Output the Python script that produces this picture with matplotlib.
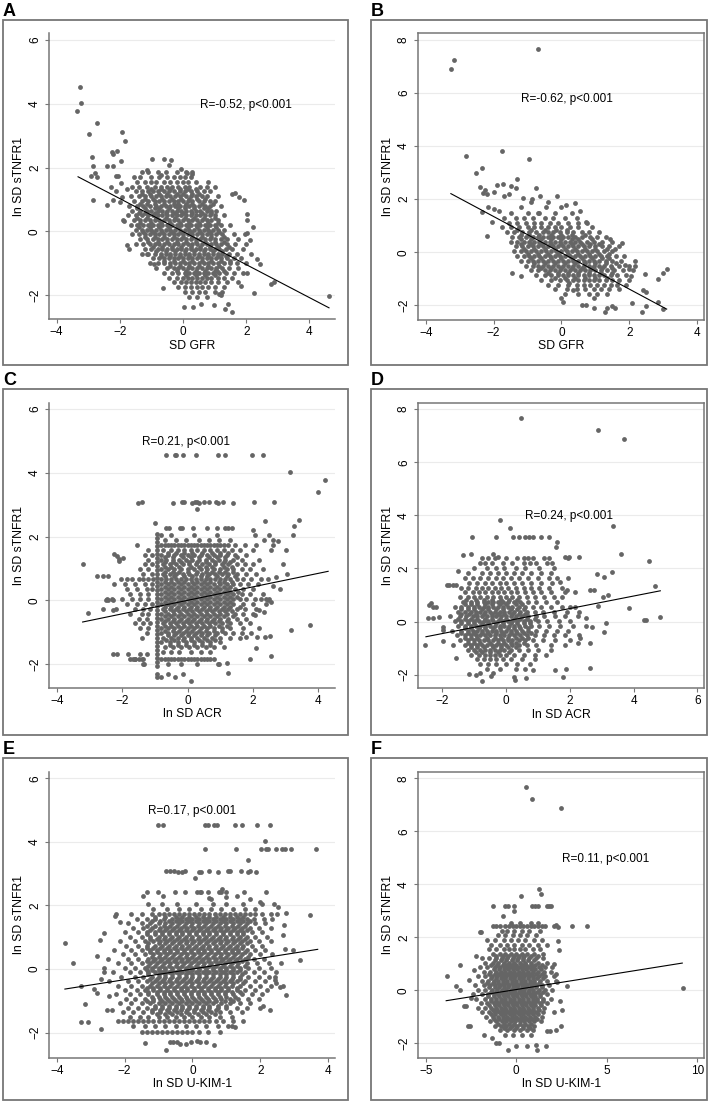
import matplotlib
matplotlib.use("Agg")
import matplotlib.pyplot as plt
from matplotlib.patches import Rectangle

plt.rcParams["font.family"] = ["Liberation Sans", "DejaVu Sans"]

# ---------------------------------------------------------------- data
# each cloud as (y level, [x values])
a_rows = [
    (1.85, [-1.3, -1.1, -0.8, -0.55, -0.2, 0.1, 0.3]),
    (1.7, [-1.55, -1.35, -1.0, -0.75, -0.5, -0.3, -0.1, 0.05, 0.25]),
    (1.55, [-1.45, -1.2, -1.0, -0.85, -0.6, -0.4, -0.2, 0.0, 0.15, 0.4, 0.8]),
    (1.4, [-1.6, -1.4, -1.15, -0.9, -0.7, -0.5, -0.35, -0.15, 0.05, 0.2, 0.55, 0.75, 1.0]),
    (1.25, [-1.5, -1.3, -1.1, -0.95, -0.8, -0.6, -0.45, -0.3, -0.1, 0.05, 0.25, 0.45, 0.65, 0.85]),
    (1.1, [-1.65, -1.4, -1.2, -1.0, -0.85, -0.7, -0.55, -0.4, -0.25, -0.1, 0.1, 0.25, 0.4, 0.6, 0.75, 1.1]),
    (0.95, [-1.55, -1.3, -1.1, -0.9, -0.75, -0.6, -0.45, -0.3, -0.15, 0.0, 0.15, 0.3, 0.5, 0.65, 0.85, 1.0]),
    (0.8, [-1.7, -1.45, -1.25, -1.05, -0.85, -0.7, -0.55, -0.4, -0.25, -0.1, 0.05, 0.2, 0.35, 0.5, 0.7, 0.85, 1.2]),
    (0.65, [-1.6, -1.35, -1.15, -1.0, -0.8, -0.65, -0.5, -0.35, -0.2, -0.05, 0.1, 0.25, 0.4, 0.55, 0.75, 0.9, 1.05]),
    (0.5, [-1.75, -1.5, -1.3, -1.1, -0.95, -0.8, -0.65, -0.5, -0.35, -0.2, -0.05, 0.1, 0.25, 0.4, 0.55, 0.7, 0.85, 1.0, 1.3]),
    (0.35, [-1.55, -1.35, -1.2, -1.05, -0.9, -0.75, -0.6, -0.45, -0.3, -0.15, 0.0, 0.15, 0.3, 0.45, 0.6, 0.75, 0.9, 1.1]),
    (0.2, [-1.65, -1.45, -1.25, -1.1, -0.95, -0.8, -0.65, -0.5, -0.35, -0.2, -0.05, 0.1, 0.25, 0.4, 0.55, 0.7, 0.85, 1.0, 1.2, 1.5]),
    (0.05, [-1.5, -1.3, -1.15, -1.0, -0.85, -0.7, -0.55, -0.4, -0.25, -0.1, 0.05, 0.2, 0.35, 0.5, 0.65, 0.8, 0.95, 1.1, 1.3]),
    (-0.1, [-1.6, -1.4, -1.2, -1.05, -0.9, -0.75, -0.6, -0.45, -0.3, -0.15, 0.0, 0.15, 0.3, 0.45, 0.6, 0.75, 0.9, 1.05, 1.25, 1.6, 1.95]),
    (-0.25, [-1.35, -1.15, -0.95, -0.8, -0.65, -0.5, -0.35, -0.2, -0.05, 0.1, 0.25, 0.4, 0.55, 0.7, 0.85, 1.0, 1.2, 1.4, 1.75]),
    (-0.4, [-1.5, -1.25, -1.05, -0.9, -0.75, -0.6, -0.45, -0.3, -0.15, 0.0, 0.15, 0.3, 0.45, 0.6, 0.75, 0.9, 1.05, 1.2, 1.4, 1.65, 2.0]),
    (-0.55, [-1.2, -1.0, -0.8, -0.65, -0.5, -0.35, -0.2, -0.05, 0.1, 0.25, 0.4, 0.55, 0.7, 0.85, 1.0, 1.15, 1.35, 1.55, 1.9]),
    (-0.7, [-1.3, -1.1, -0.9, -0.7, -0.55, -0.4, -0.25, -0.1, 0.05, 0.2, 0.35, 0.5, 0.65, 0.8, 0.95, 1.1, 1.25, 1.45, 1.7, 2.15]),
    (-0.85, [-0.95, -0.75, -0.6, -0.45, -0.3, -0.15, 0.0, 0.15, 0.3, 0.45, 0.6, 0.75, 0.9, 1.05, 1.2, 1.4, 1.6, 1.85]),
    (-1.0, [-1.05, -0.8, -0.6, -0.4, -0.25, -0.1, 0.05, 0.2, 0.35, 0.5, 0.65, 0.8, 0.95, 1.1, 1.3, 1.5, 1.7, 2.0]),
    (-1.15, [-0.85, -0.5, -0.3, -0.15, 0.0, 0.15, 0.3, 0.45, 0.6, 0.75, 0.9, 1.05, 1.25, 1.45, 1.75]),
    (-1.3, [-0.6, -0.35, -0.15, 0.05, 0.2, 0.35, 0.5, 0.65, 0.8, 0.95, 1.15, 1.35, 1.6, 1.9]),
    (-1.45, [-0.45, -0.2, 0.0, 0.15, 0.3, 0.45, 0.6, 0.75, 0.9, 1.1, 1.3, 1.55]),
    (-1.6, [-0.3, -0.05, 0.1, 0.25, 0.4, 0.55, 0.7, 0.9, 1.1, 1.4, 1.75]),
    (-1.75, [-0.15, 0.05, 0.25, 0.45, 0.6, 0.8, 1.0, 1.3]),
    (-1.9, [0.05, 0.3, 0.5, 0.7, 1.0, 1.25]),
    (-2.05, [0.2, 0.45, 0.75]),
]
# extra rows inside the solid core
a_fill = [
    (1.32, [-1.0, -0.7, -0.4, -0.1, 0.15, 0.4]),
    (1.17, [-1.3, -1.05, -0.75, -0.5, -0.2, 0.0, 0.3, 0.5]),
    (1.02, [-1.2, -0.95, -0.65, -0.35, -0.05, 0.2, 0.45, 0.7]),
    (0.87, [-1.35, -1.15, -0.9, -0.6, -0.3, -0.15, 0.1, 0.3, 0.6, 0.95]),
    (0.72, [-1.45, -1.2, -0.9, -0.75, -0.45, -0.15, 0.05, 0.35, 0.65, 0.8]),
    (0.57, [-1.4, -1.2, -0.9, -0.55, -0.25, 0.0, 0.3, 0.6, 0.9]),
    (0.42, [-1.45, -1.15, -0.85, -0.55, -0.25, 0.05, 0.35, 0.65, 1.0]),
    (0.27, [-1.35, -1.0, -0.7, -0.4, -0.1, 0.2, 0.5, 0.8, 1.1]),
    (0.12, [-1.4, -1.05, -0.75, -0.45, -0.15, 0.15, 0.45, 0.75, 1.05]),
    (-0.03, [-1.25, -0.95, -0.65, -0.35, -0.05, 0.25, 0.55, 0.85, 1.15]),
    (-0.18, [-1.2, -0.9, -0.6, -0.3, 0.0, 0.3, 0.6, 0.9, 1.3]),
    (-0.33, [-1.1, -0.8, -0.5, -0.2, 0.1, 0.4, 0.7, 1.0, 1.3]),
    (-0.48, [-0.95, -0.65, -0.35, -0.05, 0.25, 0.55, 0.85, 1.1, 1.45]),
    (-0.63, [-0.85, -0.55, -0.25, 0.05, 0.35, 0.65, 0.95, 1.25]),
    (-0.78, [-0.7, -0.4, -0.1, 0.2, 0.5, 0.8, 1.1, 1.35]),
    (-0.93, [-0.6, -0.3, 0.0, 0.3, 0.6, 0.9, 1.2, 1.5]),
    (-1.08, [-0.4, -0.1, 0.2, 0.5, 0.8, 1.15]),
    (-1.23, [-0.2, 0.1, 0.4, 0.7, 1.0, 1.3]),
    (-1.38, [0.1, 0.4, 0.7, 1.0]),
]
a_extra = [
    (-3.25, 4.53), (-3.22, 4.01), (-3.34, 3.78), (-2.73, 3.40), (-2.97, 3.05), (-1.93, 3.10),
    (-1.85, 2.84), (-2.25, 2.48), (-2.09, 2.53), (-2.23, 2.42), (-2.89, 2.34), (-2.85, 2.06),
    (-2.42, 2.04), (-2.23, 2.06), (-1.95, 2.19), (-2.92, 1.74), (-2.78, 1.84), (-2.71, 1.69),
    (-2.86, 0.97), (-2.39, 0.83), (-2.23, 0.97), (-2.13, 1.73), (-2.07, 1.73), (-1.97, 1.50),
    (-1.92, 1.08), (-1.90, 0.35), (-1.86, 0.31), (-1.76, -0.44), (-1.70, -0.54), (-2.28, 1.39),
    (-2.13, 1.27), (-2.00, 0.93), (-1.78, 1.34), (-0.97, 2.28), (-0.61, 2.26), (-0.39, 2.24),
    (-0.44, 2.07), (-0.07, 1.94), (0.14, 1.83), (0.29, 1.81), (-1.13, 1.92), (-0.70, 1.76),
    (1.56, 1.18), (1.66, 1.20), (1.78, 1.08), (1.93, 0.99), (2.01, 0.55), (2.03, 0.35),
    (2.21, 0.14), (2.01, -0.05), (2.12, -0.28), (2.33, -0.86), (2.45, -1.02), (2.03, -1.31),
    (2.26, -1.92), (1.82, -1.71), (2.77, -1.64), (2.87, -1.60), (4.61, -2.03), (0.03, -2.38),
    (0.33, -2.38), (0.98, -2.32), (1.32, -2.43), (1.43, -2.27), (1.56, -2.53), (0.56, -2.27),
    (-0.62, -1.77), (1.08, -1.23), (1.14, -1.96), (1.19, -2.01), (-0.92, -1.02), (-1.13, -0.70),
]

b_rows = [
    (1.9, [-0.9, -0.4]),
    (1.7, [-1.2, -0.45, 0.0]),
    (1.48, [-1.5, -1.0, -0.7, -0.2, 0.3]),
    (1.3, [-1.7, -1.35, -1.1, -0.85, -0.5, -0.25, 0.1, 0.45]),
    (1.12, [-1.55, -1.3, -1.05, -0.8, -0.6, -0.35, -0.1, 0.2, 0.5, 0.75]),
    (0.94, [-1.75, -1.5, -1.25, -1.0, -0.8, -0.6, -0.4, -0.2, 0.0, 0.25, 0.5, 0.9]),
    (0.76, [-1.6, -1.4, -1.15, -0.95, -0.75, -0.55, -0.4, -0.25, -0.05, 0.15, 0.35, 0.6, 0.8, 1.1]),
    (0.58, [-1.45, -1.25, -1.05, -0.85, -0.7, -0.55, -0.4, -0.25, -0.1, 0.05, 0.2, 0.4, 0.6, 0.85, 1.05, 1.3]),
    (0.4, [-1.5, -1.3, -1.1, -0.95, -0.8, -0.65, -0.5, -0.35, -0.2, -0.05, 0.1, 0.25, 0.4, 0.55, 0.75, 0.95, 1.2, 1.5]),
    (0.22, [-1.35, -1.15, -1.0, -0.85, -0.7, -0.55, -0.4, -0.25, -0.1, 0.05, 0.2, 0.35, 0.5, 0.65, 0.8, 1.0, 1.2, 1.4, 1.7]),
    (0.04, [-1.4, -1.2, -1.05, -0.9, -0.75, -0.6, -0.45, -0.3, -0.15, 0.0, 0.15, 0.3, 0.45, 0.6, 0.75, 0.9, 1.05, 1.25, 1.5]),
    (-0.14, [-1.3, -1.1, -0.95, -0.8, -0.65, -0.5, -0.35, -0.2, -0.05, 0.1, 0.25, 0.4, 0.55, 0.7, 0.85, 1.0, 1.15, 1.35, 1.6, 1.85]),
    (-0.32, [-1.2, -1.0, -0.85, -0.7, -0.55, -0.4, -0.25, -0.1, 0.05, 0.2, 0.35, 0.5, 0.65, 0.8, 0.95, 1.1, 1.3, 1.5, 1.75]),
    (-0.5, [-1.05, -0.85, -0.7, -0.55, -0.4, -0.25, -0.1, 0.05, 0.2, 0.35, 0.5, 0.65, 0.8, 0.95, 1.1, 1.25, 1.45, 1.7, 2.0]),
    (-0.68, [-0.9, -0.7, -0.5, -0.35, -0.2, -0.05, 0.1, 0.25, 0.4, 0.55, 0.7, 0.85, 1.0, 1.15, 1.35, 1.55, 1.8, 2.1]),
    (-0.86, [-0.75, -0.5, -0.3, -0.1, 0.05, 0.2, 0.35, 0.5, 0.65, 0.8, 0.95, 1.1, 1.25, 1.45, 1.65, 1.9]),
    (-1.04, [-0.6, -0.3, -0.05, 0.15, 0.35, 0.5, 0.65, 0.8, 0.95, 1.1, 1.3, 1.5, 1.7, 2.0]),
    (-1.22, [-0.4, -0.1, 0.2, 0.45, 0.65, 0.85, 1.05, 1.25, 1.45, 1.65, 1.9]),
    (-1.4, [-0.2, 0.15, 0.45, 0.7, 0.95, 1.15, 1.4, 1.7]),
    (-1.58, [0.1, 0.5, 0.8, 1.05, 1.35]),
]
b_fill = [
    (0.85, [-1.3, -0.9, -0.5, -0.15, 0.15]),
    (0.67, [-1.2, -0.95, -0.65, -0.3, 0.0, 0.3, 0.7]),
    (0.49, [-1.2, -0.9, -0.6, -0.3, 0.0, 0.3, 0.5, 0.9]),
    (0.31, [-1.2, -0.9, -0.6, -0.3, 0.0, 0.3, 0.6, 0.85, 1.1]),
    (0.13, [-1.1, -0.8, -0.5, -0.2, 0.1, 0.4, 0.7, 1.0, 1.35]),
    (-0.05, [-1.0, -0.7, -0.4, -0.1, 0.2, 0.5, 0.8, 1.1, 1.4]),
    (-0.23, [-0.9, -0.6, -0.3, 0.0, 0.3, 0.6, 0.9, 1.2, 1.4]),
    (-0.41, [-0.8, -0.5, -0.2, 0.1, 0.4, 0.7, 1.0, 1.3, 1.6]),
    (-0.59, [-0.6, -0.3, 0.0, 0.3, 0.6, 0.9, 1.2, 1.5]),
    (-0.77, [-0.4, -0.1, 0.2, 0.5, 0.8, 1.15, 1.5]),
    (-0.95, [-0.2, 0.1, 0.4, 0.7, 1.0, 1.35]),
]
b_extra = [
    (-3.26, 6.89), (-3.17, 7.23), (-0.70, 7.65), (-2.82, 3.62), (-1.75, 3.81), (-0.95, 3.52),
    (-2.51, 2.99), (-2.33, 3.16), (-1.30, 2.78), (-2.39, 2.45), (-2.25, 2.34), (-2.31, 2.24),
    (-1.91, 2.55), (-1.72, 2.59), (-1.48, 2.49), (-1.33, 2.43), (-1.99, 2.26), (-1.68, 2.11),
    (-2.19, 2.18), (-0.76, 2.42), (-0.62, 2.11), (-0.12, 2.11), (0.12, 1.77), (-2.33, 1.51),
    (-2.17, 1.71), (-1.99, 1.64), (-1.84, 1.55), (-2.06, 1.13), (-2.19, 0.63), (-1.55, 2.21),
    (-1.13, 2.05), (-0.88, 1.99), (-0.67, 1.48), (0.41, 1.84), (0.56, 1.55), (0.71, 1.13),
    (1.44, 0.50), (1.78, 0.35), (1.59, 0.13), (1.88, -0.47), (1.98, -0.63), (2.18, -0.53),
    (2.16, -0.34), (2.06, -0.91), (2.47, -0.81), (2.40, -1.43), (2.50, -1.51), (2.83, -1.01),
    (2.99, -0.78), (3.11, -0.63), (2.83, -1.89), (2.98, -2.14), (2.37, -2.23), (2.50, -2.04),
    (2.08, -1.91), (1.59, -2.10), (1.29, -2.23), (1.34, -2.10), (1.49, -2.01), (0.95, -2.10),
    (0.71, -1.97), (0.59, -1.97), (0.00, -1.72), (0.04, -1.89), (0.33, -1.41), (0.95, -1.72),
    (-1.45, -0.78), (-1.18, -0.91), (0.22, -1.16),
]

c_rows = [
    (2.05, [-0.8, -0.5, 0.2, 0.9, 2.05, 2.5]),
    (1.9, [-0.7, -0.35, -0.05, 0.35, 0.65, 0.95, 1.3, 2.35, 2.6]),
    (1.73, [-1.55, -0.8, -0.7, -0.6, -0.5, -0.4, -0.3, -0.2, -0.1, 0.0, 0.1, 0.2, 0.3, 0.4, 0.5,
            0.6, 0.7, 0.8, 0.9, 1.0, 1.1, 1.25, 1.45, 1.75, 2.1, 2.6]),
    (1.58, [-1.2, -0.75, -0.5, -0.3, -0.1, 0.1, 0.3, 0.5, 0.7, 0.9, 1.1, 1.35, 1.6, 2.0, 2.55]),
    (1.43, [-1.3, -1.1, -0.8, -0.6, -0.4, -0.2, 0.0, 0.2, 0.4, 0.6, 0.8, 1.0, 1.2, 1.45, 1.8]),
    (1.28, [-1.2, -0.8, -0.65, -0.45, -0.25, -0.05, 0.15, 0.35, 0.55, 0.75, 0.95, 1.15, 1.4, 1.65, 2.2]),
    (1.13, [-1.3, -1.1, -0.75, -0.55, -0.35, -0.15, 0.05, 0.25, 0.45, 0.65, 0.85, 1.05, 1.25, 1.5, 1.75, 2.0]),
    (0.98, [-1.45, -1.2, -0.8, -0.6, -0.4, -0.2, 0.0, 0.2, 0.4, 0.6, 0.8, 1.0, 1.2, 1.4, 1.65, 1.9, 2.3]),
    (0.83, [-1.35, -1.1, -0.75, -0.55, -0.35, -0.15, 0.05, 0.25, 0.45, 0.65, 0.85, 1.05, 1.25, 1.5, 1.8, 2.1]),
    (0.66, [-2.05, -1.85, -1.7, -1.5, -1.35, -1.2, -1.05, -0.8, -0.65, -0.5, -0.35, -0.2, -0.05, 0.1,
            0.25, 0.4, 0.55, 0.7, 0.85, 1.0, 1.15, 1.3, 1.5, 1.7, 1.95, 2.25, 2.45]),
    (0.5, [-2.25, -1.9, -1.6, -1.3, -1.1, -0.8, -0.6, -0.4, -0.2, 0.0, 0.2, 0.4, 0.6, 0.8, 1.0, 1.2,
           1.4, 1.6, 1.85, 2.15]),
    (0.35, [-1.85, -1.55, -1.25, -1.1, -0.8, -0.6, -0.4, -0.2, 0.0, 0.2, 0.4, 0.6, 0.8, 1.0, 1.2, 1.45, 1.7, 2.0]),
    (0.2, [-1.75, -1.45, -1.2, -0.8, -0.6, -0.4, -0.2, 0.0, 0.2, 0.4, 0.6, 0.8, 1.0, 1.2, 1.4, 1.65, 1.9, 2.3]),
    (0.03, [-2.45, -2.3, -2.0, -1.7, -1.45, -1.2, -0.8, -0.6, -0.4, -0.2, 0.0, 0.2, 0.4, 0.6, 0.8, 1.0,
            1.2, 1.4, 1.6, 1.8, 2.05, 2.25, 2.4, 2.5]),
    (-0.12, [-1.85, -1.55, -1.3, -1.1, -0.8, -0.6, -0.4, -0.2, 0.0, 0.2, 0.4, 0.6, 0.8, 1.0, 1.2, 1.4, 1.7, 2.0, 2.4]),
    (-0.27, [-2.2, -1.6, -1.35, -1.15, -0.75, -0.55, -0.35, -0.15, 0.05, 0.25, 0.45, 0.65, 0.85, 1.05,
             1.25, 1.5, 1.75, 2.1]),
    (-0.42, [-1.75, -1.4, -1.2, -0.8, -0.6, -0.4, -0.2, 0.0, 0.2, 0.4, 0.6, 0.8, 1.0, 1.2, 1.45, 1.7, 2.0]),
    (-0.57, [-1.5, -1.25, -0.8, -0.6, -0.4, -0.2, 0.0, 0.2, 0.4, 0.6, 0.8, 1.0, 1.25, 1.5, 1.8]),
    (-0.72, [-1.6, -1.35, -1.15, -0.75, -0.55, -0.35, -0.15, 0.05, 0.25, 0.45, 0.65, 0.85, 1.05, 1.3, 1.6, 1.9]),
    (-0.87, [-1.45, -1.2, -0.8, -0.6, -0.4, -0.2, 0.0, 0.2, 0.4, 0.6, 0.8, 1.05, 1.3, 1.7, 2.2]),
    (-1.02, [-1.25, -0.8, -0.6, -0.35, -0.15, 0.05, 0.25, 0.45, 0.65, 0.9, 1.15, 1.4, 1.65, 1.95]),
    (-1.17, [-1.4, -0.75, -0.5, -0.3, -0.1, 0.1, 0.3, 0.5, 0.75, 1.0, 1.3, 1.6]),
    (-1.32, [-0.8, -0.55, -0.3, -0.05, 0.2, 0.45, 0.7, 1.0]),
    (-1.47, [-0.7, -0.45, -0.2, 0.05, 0.3, 0.55, 0.8, 1.1]),
    (-1.62, [-0.75, -0.5, -0.25, 0.1, 0.4, 0.7]),
    (-1.83, [-1.75, -1.6, -1.5, -1.4, -0.8, -0.7, -0.6, -0.5, -0.4, -0.3, -0.2, -0.1, 0.0, 0.1, 0.2,
             0.3, 0.4, 0.5, 0.6, 0.7, 0.8]),
    (-2.0, [-1.35, -0.6, -0.2, 0.3, 0.95]),
]
c_fill = [
    (1.5, [-0.6, -0.35, -0.1, 0.15, 0.45, 0.75, 1.0, 1.25]),
    (1.35, [-0.7, -0.45, -0.15, 0.1, 0.35, 0.65, 0.9, 1.15, 1.5]),
    (1.2, [-0.7, -0.45, -0.2, 0.05, 0.3, 0.55, 0.85, 1.1, 1.3]),
    (1.05, [-0.7, -0.5, -0.25, 0.1, 0.35, 0.55, 0.75, 1.1, 1.35]),
    (0.9, [-0.7, -0.45, -0.25, 0.0, 0.3, 0.55, 0.75, 0.95, 1.15, 1.4]),
    (0.75, [-0.7, -0.4, -0.1, 0.15, 0.4, 0.6, 0.9, 1.2, 1.45]),
    (0.58, [-0.7, -0.5, -0.3, -0.1, 0.15, 0.3, 0.5, 0.7, 0.95, 1.1, 1.35]),
    (0.42, [-0.7, -0.5, -0.3, -0.1, 0.1, 0.3, 0.5, 0.7, 0.9, 1.1, 1.3]),
    (0.27, [-0.7, -0.5, -0.3, -0.1, 0.1, 0.3, 0.5, 0.7, 0.9, 1.1, 1.3, 1.55]),
    (0.12, [-0.7, -0.5, -0.3, -0.1, 0.1, 0.3, 0.5, 0.7, 0.9, 1.1, 1.3, 1.5]),
    (-0.05, [-0.7, -0.5, -0.3, -0.1, 0.1, 0.3, 0.5, 0.7, 0.9, 1.1, 1.3]),
    (-0.2, [-0.7, -0.5, -0.3, -0.1, 0.1, 0.3, 0.5, 0.7, 0.9, 1.1, 1.3, 1.6]),
    (-0.35, [-0.7, -0.45, -0.25, -0.05, 0.15, 0.35, 0.55, 0.75, 0.95, 1.15, 1.35]),
    (-0.5, [-0.7, -0.5, -0.3, -0.1, 0.1, 0.3, 0.5, 0.7, 0.9, 1.1, 1.4]),
    (-0.65, [-0.7, -0.45, -0.25, -0.05, 0.15, 0.35, 0.55, 0.75, 0.95, 1.2]),
    (-0.8, [-0.7, -0.5, -0.3, -0.1, 0.1, 0.3, 0.5, 0.7, 0.95, 1.2]),
    (-0.95, [-0.7, -0.45, -0.25, -0.05, 0.15, 0.35, 0.55, 0.8, 1.05]),
    (-1.1, [-0.6, -0.4, -0.2, 0.0, 0.2, 0.4, 0.6, 0.85]),
    (-1.25, [-0.65, -0.4, -0.15, 0.1, 0.35, 0.6, 0.85]),
    (-1.4, [-0.55, -0.3, -0.05, 0.2, 0.45, 0.7]),
]
# column of points stacked at the ACR lower limit
c_band_x = -0.95
c_band_y = [-2.05, -1.92, -1.8, -1.68, -1.55, -1.43, -1.3, -1.18, -1.05, -0.93, -0.8, -0.68, -0.55,
            -0.43, -0.3, -0.18, -0.05, 0.07, 0.2, 0.32, 0.45, 0.57, 0.7, 0.82, 0.95, 1.07, 1.2, 1.32,
            1.45, 1.57, 1.7, 1.82, 1.95, 2.07]
c_extra = [
    (-0.66, 4.55), (-0.39, 4.55), (-0.34, 4.55), (-0.15, 4.55), (0.26, 4.55), (0.94, 4.55),
    (1.14, 4.55), (1.98, 4.55), (2.30, 4.55),
    (-1.51, 3.05), (-1.38, 3.08), (-0.44, 3.05), (-0.16, 3.08), (-0.10, 3.07), (0.15, 3.05),
    (0.22, 3.07), (0.30, 3.07), (0.50, 3.08), (0.66, 3.08), (0.87, 3.08), (1.09, 3.10),
    (1.40, 3.05), (2.04, 3.10), (2.65, 3.10), (0.30, 2.85), (0.36, 3.05), (0.92, 3.05),
    (-0.67, 2.28), (-0.57, 2.28), (-0.23, 2.28), (-0.18, 2.28), (0.17, 2.28), (0.58, 2.28),
    (0.89, 2.28), (1.14, 2.28), (1.24, 2.28), (1.35, 2.28), (1.99, 2.20), (-0.99, 2.43),
    (-3.21, 1.13), (-3.04, -0.40), (-2.78, 0.76), (-2.58, 0.76), (-2.43, 0.76), (-2.25, 1.45),
    (-2.17, 1.38), (-2.09, 1.30), (-2.09, 1.22), (-1.97, 1.33), (-2.50, 0.02), (-2.43, 0.02),
    (-2.27, 0.02), (-2.58, -0.26), (-2.27, -0.29), (-2.27, -1.68), (-2.15, -1.68), (-1.81, -1.68),
    (-1.68, -1.83), (-1.61, -1.83), (-1.46, -1.68), (-1.36, -1.83), (-1.25, -1.68), (-1.33, -2.01),
    (-0.95, -2.30), (-0.95, -2.41), (-0.80, -2.39), (-0.59, -2.32), (-0.39, -2.41), (-0.15, -2.32),
    (0.10, -2.53), (0.94, -2.01), (1.22, -1.97), (1.24, -2.27), (1.91, -1.83), (2.54, -1.75),
    (3.15, -0.94), (3.76, -0.76), (4.20, 3.79), (3.98, 3.40), (3.13, 4.02), (3.41, 2.53),
    (3.25, 2.32), (3.21, 2.06), (3.01, 1.59), (2.91, 1.15), (2.77, 1.86), (3.05, 0.84),
    (2.82, 0.37), (2.38, 2.49), (2.06, -0.47), (2.20, -0.30), (2.35, -0.37), (2.37, -1.15),
    (2.11, -1.15), (1.80, -1.15), (2.52, -1.11), (2.09, -1.49), (2.55, -0.05), (2.45, 0.00),
    (2.70, 0.72), (2.60, 0.45),
]

d_rows = [
    (2.4, [-0.75, -0.55, -0.35, 0.0, 0.35, 0.55, 0.7, 0.85, 1.2, 1.35, 1.95]),
    (2.2, [-0.8, -0.65, -0.45, -0.1, 0.2, 0.55, 0.75, 0.95, 1.3, 1.45]),
    (2.0, [-1.0, -0.6, -0.3, -0.05, 0.3, 0.6, 1.05, 1.5]),
    (1.82, [-1.2, -0.75, -0.5, -0.25, 0.0, 0.25, 0.5, 0.8, 1.1, 1.4]),
    (1.64, [-1.3, -1.05, -0.8, -0.55, -0.3, -0.1, 0.15, 0.4, 0.7, 1.0, 1.35, 1.6, 1.95]),
    (1.46, [-1.15, -0.9, -0.65, -0.45, -0.2, 0.0, 0.25, 0.5, 0.8, 1.1, 1.45]),
    (1.28, [-1.4, -1.2, -0.95, -0.75, -0.55, -0.35, -0.15, 0.05, 0.3, 0.55, 0.8, 1.05, 1.35, 1.75]),
    (1.1, [-1.3, -1.05, -0.85, -0.65, -0.45, -0.25, -0.05, 0.15, 0.35, 0.6, 0.85, 1.1, 1.4, 1.85, 2.15]),
    (0.92, [-1.45, -1.2, -1.0, -0.8, -0.6, -0.4, -0.2, 0.0, 0.2, 0.4, 0.65, 0.9, 1.2, 1.5, 1.75]),
    (0.74, [-1.35, -1.1, -0.9, -0.7, -0.55, -0.4, -0.25, -0.1, 0.05, 0.25, 0.45, 0.7, 0.95, 1.25, 1.6]),
    (0.56, [-1.6, -1.4, -1.2, -1.0, -0.85, -0.7, -0.55, -0.4, -0.25, -0.1, 0.05, 0.2, 0.4, 0.6, 0.85,
            1.1, 1.4, 1.75, 2.0]),
    (0.38, [-1.5, -1.3, -1.1, -0.95, -0.8, -0.65, -0.5, -0.35, -0.2, -0.05, 0.1, 0.25, 0.45, 0.65, 0.9,
            1.15, 1.5, 1.9, 2.3]),
    (0.2, [-1.75, -1.45, -1.25, -1.05, -0.9, -0.75, -0.6, -0.45, -0.3, -0.15, 0.0, 0.15, 0.3, 0.5, 0.7,
           0.95, 1.2, 1.55, 1.85, 2.25]),
    (0.02, [-1.6, -1.4, -1.2, -1.0, -0.85, -0.7, -0.55, -0.4, -0.25, -0.1, 0.05, 0.2, 0.35, 0.55, 0.75,
            1.0, 1.3, 1.65, 2.0]),
    (-0.16, [-1.5, -1.3, -1.1, -0.95, -0.8, -0.65, -0.5, -0.35, -0.2, -0.05, 0.1, 0.25, 0.4, 0.6, 0.8,
             1.05, 1.35, 1.7, 2.1, 2.5]),
    (-0.34, [-1.7, -1.4, -1.2, -1.05, -0.9, -0.75, -0.6, -0.45, -0.3, -0.15, 0.0, 0.15, 0.3, 0.5, 0.7,
             0.95, 1.25, 1.6, 1.95]),
    (-0.52, [-1.55, -1.3, -1.1, -0.95, -0.8, -0.65, -0.5, -0.35, -0.2, -0.05, 0.1, 0.25, 0.45, 0.65,
             0.9, 1.2, 1.5, 1.85, 2.3]),
    (-0.7, [-1.45, -1.2, -1.0, -0.85, -0.7, -0.55, -0.4, -0.25, -0.1, 0.05, 0.2, 0.4, 0.6, 0.85, 1.15,
            1.55, 2.0]),
    (-0.88, [-1.65, -1.3, -1.1, -0.9, -0.75, -0.6, -0.45, -0.3, -0.15, 0.0, 0.2, 0.4, 0.65, 0.95, 1.4, 1.85]),
    (-1.06, [-1.2, -1.0, -0.8, -0.65, -0.5, -0.35, -0.2, -0.05, 0.15, 0.4, 0.7, 1.0, 1.4]),
    (-1.24, [-1.1, -0.85, -0.65, -0.5, -0.35, -0.2, 0.0, 0.25, 0.55, 0.9, 1.25]),
    (-1.42, [-0.9, -0.7, -0.5, -0.3, -0.1, 0.15, 0.5, 0.9]),
    (-1.6, [-0.8, -0.55, -0.3, 0.0, 0.35, 0.75]),
    (-1.78, [-0.6, -0.2, 0.3, 0.6]),
]
d_fill = [
    (0.83, [-1.25, -0.95, -0.7, -0.45, -0.15, 0.1, 0.35]),
    (0.65, [-1.3, -1.1, -0.9, -0.65, -0.45, -0.2, 0.0, 0.3, 0.5]),
    (0.47, [-1.4, -1.2, -1.0, -0.75, -0.55, -0.3, -0.1, 0.15, 0.35, 0.55]),
    (0.29, [-1.4, -1.15, -0.95, -0.7, -0.45, -0.25, -0.05, 0.2, 0.4, 0.6]),
    (0.11, [-1.5, -1.3, -1.1, -0.9, -0.65, -0.45, -0.2, 0.0, 0.25, 0.45, 0.65, 0.9]),
    (-0.07, [-1.4, -1.2, -1.0, -0.75, -0.55, -0.3, -0.1, 0.15, 0.35, 0.55, 0.75]),
    (-0.25, [-1.3, -1.1, -0.85, -0.65, -0.4, -0.2, 0.05, 0.25, 0.45, 0.7]),
    (-0.43, [-1.4, -1.2, -1.0, -0.75, -0.55, -0.3, -0.1, 0.15, 0.35, 0.55, 0.8]),
    (-0.61, [-1.3, -1.1, -0.9, -0.6, -0.35, -0.15, 0.05, 0.3, 0.5, 0.7]),
    (-0.79, [-1.2, -1.0, -0.8, -0.5, -0.25, -0.05, 0.15, 0.3, 0.55]),
    (-0.97, [-1.1, -0.9, -0.7, -0.4, -0.15, 0.05, 0.3]),
    (-1.15, [-0.95, -0.75, -0.5, -0.25, 0.1]),
]
d_extra = [
    (0.47, 7.65), (2.88, 7.22), (3.71, 6.89), (-0.19, 3.81), (0.14, 3.52), (3.36, 3.61),
    (-1.07, 3.17), (-0.31, 3.17), (0.23, 3.17), (0.40, 3.17), (0.60, 3.17), (0.71, 3.17),
    (0.86, 3.17), (1.10, 3.17), (1.36, 3.17), (1.60, 2.98), (1.57, 2.81), (3.61, 2.55),
    (4.49, 2.29), (1.85, 2.43), (2.30, 2.45), (1.97, 2.43), (3.34, 1.85), (2.84, 1.79),
    (3.06, 1.67), (4.68, 1.35), (3.19, 1.01), (3.03, 0.94), (3.87, 0.50), (4.39, 0.06),
    (4.34, 0.06), (4.84, 0.16), (3.13, -0.04), (3.06, -0.38), (2.63, -0.79), (2.27, -0.82),
    (2.33, -0.63), (2.63, -1.76), (1.88, -1.80), (1.78, -2.08), (1.55, -1.82), (0.63, -2.14),
    (0.29, -2.20), (0.26, -2.08), (-0.80, -1.95), (-0.76, -2.24), (-0.94, -2.01), (-1.15, -1.97),
    (-0.47, -2.05), (-0.42, -1.92), (0.86, -1.82), (-1.57, -1.38), (-2.54, -0.88), (-1.99, -0.73),
    (-2.40, 0.63), (-2.34, 0.70), (-2.30, 0.55), (-2.46, 0.15), (-2.30, 0.15), (-2.09, 0.16),
    (-2.19, 0.54), (-1.99, -0.19), (-1.96, -0.31), (-1.86, 1.38), (-1.78, 1.38), (-1.65, 1.38),
    (-1.57, 1.38), (-1.52, 1.92), (-1.36, 2.52), (-1.10, 2.55), (-0.42, 2.54), (-0.26, 2.45),
    (2.75, 1.20), (2.65, 1.20), (2.90, 0.60), (2.50, 0.15), (2.70, -0.20), (2.15, 0.55),
    (1.90, 1.20), (1.70, 1.50),
]

e_rows = [
    (2.05, [-1.3, -0.9, -0.45, 0.1, 0.6, 1.0, 1.5, 2.05, 2.4]),
    (1.9, [-1.15, -0.75, -0.4, -0.1, 0.25, 0.55, 0.85, 1.2, 1.55, 1.85]),
    (1.73, [-1.8, -1.5, -1.2, -1.0, -0.85, -0.7, -0.55, -0.4, -0.25, -0.1, 0.05, 0.2, 0.35, 0.5, 0.65,
            0.8, 0.95, 1.1, 1.25, 1.4, 1.55, 1.7, 1.85, 2.05, 2.3, 2.5]),
    (1.58, [-1.65, -1.35, -1.1, -0.85, -0.6, -0.4, -0.2, 0.0, 0.2, 0.4, 0.6, 0.8, 1.0, 1.2, 1.4, 1.6,
            1.8, 2.1, 2.35]),
    (1.44, [-1.9, -1.5, -1.25, -1.0, -0.8, -0.6, -0.4, -0.2, 0.0, 0.2, 0.4, 0.6, 0.8, 1.0, 1.2, 1.4,
            1.6, 1.85, 2.15]),
    (1.3, [-1.75, -1.45, -1.2, -0.95, -0.75, -0.55, -0.35, -0.15, 0.05, 0.25, 0.45, 0.65, 0.85, 1.05,
           1.25, 1.45, 1.7, 1.95, 2.3]),
    (1.16, [-2.0, -1.6, -1.35, -1.1, -0.9, -0.7, -0.5, -0.3, -0.1, 0.1, 0.3, 0.5, 0.7, 0.9, 1.1, 1.3,
            1.5, 1.75, 2.05]),
    (1.02, [-1.85, -1.5, -1.25, -1.0, -0.8, -0.6, -0.4, -0.2, 0.0, 0.2, 0.4, 0.6, 0.8, 1.0, 1.2, 1.4,
            1.6, 1.85, 2.2]),
    (0.88, [-2.15, -1.7, -1.4, -1.15, -0.95, -0.75, -0.55, -0.35, -0.15, 0.05, 0.25, 0.45, 0.65, 0.85,
            1.05, 1.25, 1.45, 1.7, 1.95, 2.3]),
    (0.74, [-1.95, -1.6, -1.35, -1.1, -0.9, -0.7, -0.5, -0.3, -0.1, 0.1, 0.3, 0.5, 0.7, 0.9, 1.1, 1.3,
            1.5, 1.75, 2.05]),
    (0.6, [-2.3, -1.8, -1.5, -1.25, -1.05, -0.85, -0.65, -0.45, -0.25, -0.05, 0.15, 0.35, 0.55, 0.75,
           0.95, 1.15, 1.35, 1.6, 1.85, 2.15]),
    (0.46, [-2.05, -1.7, -1.4, -1.15, -0.95, -0.75, -0.55, -0.35, -0.15, 0.05, 0.25, 0.45, 0.65, 0.85,
            1.05, 1.25, 1.45, 1.7, 2.0, 2.35]),
    (0.32, [-2.5, -1.9, -1.6, -1.3, -1.1, -0.9, -0.7, -0.5, -0.3, -0.1, 0.1, 0.3, 0.5, 0.7, 0.9, 1.1,
            1.3, 1.55, 1.8, 2.1]),
    (0.18, [-2.2, -1.8, -1.5, -1.25, -1.05, -0.85, -0.65, -0.45, -0.25, -0.05, 0.15, 0.35, 0.55, 0.75,
            0.95, 1.15, 1.35, 1.6, 1.9, 2.25]),
    (0.04, [-2.6, -2.0, -1.7, -1.4, -1.2, -1.0, -0.8, -0.6, -0.4, -0.2, 0.0, 0.2, 0.4, 0.6, 0.8, 1.0,
            1.2, 1.4, 1.65, 1.95, 2.3]),
    (-0.1, [-2.35, -1.85, -1.55, -1.3, -1.1, -0.9, -0.7, -0.5, -0.3, -0.1, 0.1, 0.3, 0.5, 0.7, 0.9, 1.1,
            1.3, 1.55, 1.8, 2.1, 2.45]),
    (-0.24, [-2.1, -1.7, -1.45, -1.2, -1.0, -0.8, -0.6, -0.4, -0.2, 0.0, 0.2, 0.4, 0.6, 0.8, 1.0, 1.2,
             1.4, 1.65, 1.95, 2.25]),
    (-0.38, [-2.45, -1.9, -1.6, -1.35, -1.1, -0.9, -0.7, -0.5, -0.3, -0.1, 0.1, 0.3, 0.5, 0.7, 0.9, 1.1,
             1.3, 1.55, 1.85, 2.15]),
    (-0.52, [-2.2, -1.8, -1.5, -1.25, -1.05, -0.85, -0.65, -0.45, -0.25, -0.05, 0.15, 0.35, 0.55, 0.75,
             0.95, 1.15, 1.4, 1.7, 2.0, 2.3]),
    (-0.66, [-2.0, -1.65, -1.4, -1.15, -0.95, -0.75, -0.55, -0.35, -0.15, 0.05, 0.25, 0.45, 0.65, 0.85,
             1.05, 1.3, 1.55, 1.85, 2.2]),
    (-0.8, [-2.25, -1.85, -1.55, -1.3, -1.05, -0.85, -0.65, -0.45, -0.25, -0.05, 0.15, 0.35, 0.55, 0.75,
            0.95, 1.2, 1.45, 1.75, 2.05]),
    (-0.94, [-1.95, -1.7, -1.4, -1.15, -0.95, -0.75, -0.55, -0.35, -0.15, 0.05, 0.25, 0.45, 0.65, 0.85,
             1.1, 1.35, 1.65, 1.95]),
    (-1.08, [-2.15, -1.8, -1.5, -1.25, -1.0, -0.8, -0.6, -0.4, -0.2, 0.0, 0.2, 0.4, 0.6, 0.85, 1.1, 1.4, 1.7]),
    (-1.22, [-1.9, -1.6, -1.35, -1.1, -0.9, -0.7, -0.5, -0.3, -0.1, 0.1, 0.3, 0.5, 0.75, 1.0, 1.3, 1.6, 2.0]),
    (-1.36, [-2.05, -1.75, -1.45, -1.2, -0.95, -0.7, -0.45, -0.2, 0.05, 0.3, 0.55, 0.8, 1.1, 1.45]),
    (-1.5, [-1.85, -1.55, -1.3, -1.0, -0.75, -0.5, -0.25, 0.0, 0.25, 0.5, 0.8, 1.15]),
    (-1.63, [-2.2, -2.05, -1.9, -1.75, -1.6, -1.45, -1.3, -1.15, -1.0, -0.85, -0.7, -0.55, -0.4, -0.25,
             -0.1, 0.05, 0.2, 0.35, 0.5, 0.7, 0.9, 1.2]),
    (-1.8, [-1.75, -1.4, -1.1, -0.8, -0.5, -0.2, 0.1, 0.4, 0.75, 1.05]),
    (-1.98, [-1.5, -1.35, -1.2, -1.05, -0.9, -0.75, -0.6, -0.45, -0.3, -0.15, 0.0, 0.2, 0.45, 0.8]),
]
e_fill = [
    (1.65, [-1.1, -0.8, -0.5, -0.3, -0.1, 0.1, 0.3, 0.5, 0.7, 0.9, 1.1, 1.3, 1.5]),
    (1.51, [-1.2, -0.95, -0.7, -0.5, -0.3, -0.1, 0.1, 0.3, 0.5, 0.7, 0.9, 1.1, 1.3, 1.5, 1.7]),
    (1.37, [-1.35, -1.1, -0.85, -0.65, -0.45, -0.25, -0.05, 0.15, 0.35, 0.55, 0.75, 0.95, 1.15, 1.35, 1.55]),
    (1.23, [-1.25, -1.0, -0.8, -0.6, -0.4, -0.2, 0.0, 0.2, 0.4, 0.6, 0.8, 1.0, 1.2, 1.4, 1.6]),
    (1.09, [-1.35, -1.1, -0.9, -0.7, -0.5, -0.3, -0.1, 0.1, 0.3, 0.5, 0.7, 0.9, 1.1, 1.3, 1.5]),
    (0.95, [-1.25, -1.05, -0.85, -0.65, -0.45, -0.25, -0.05, 0.15, 0.35, 0.55, 0.75, 0.95, 1.15, 1.35, 1.55]),
    (0.81, [-1.3, -1.0, -0.8, -0.6, -0.4, -0.2, 0.0, 0.2, 0.4, 0.6, 0.8, 1.0, 1.2, 1.4, 1.6]),
    (0.67, [-1.35, -1.15, -0.95, -0.75, -0.55, -0.35, -0.15, 0.05, 0.25, 0.45, 0.65, 0.85, 1.05, 1.25, 1.45]),
    (0.53, [-1.25, -1.05, -0.85, -0.65, -0.45, -0.25, -0.05, 0.15, 0.35, 0.55, 0.75, 0.95, 1.15, 1.35, 1.55]),
    (0.39, [-1.2, -1.0, -0.8, -0.6, -0.4, -0.2, 0.0, 0.2, 0.4, 0.6, 0.8, 1.0, 1.2, 1.4, 1.65]),
    (0.25, [-1.35, -1.15, -0.95, -0.75, -0.55, -0.35, -0.15, 0.05, 0.25, 0.45, 0.65, 0.85, 1.05, 1.25, 1.45]),
    (0.11, [-1.3, -1.1, -0.9, -0.7, -0.5, -0.3, -0.1, 0.1, 0.3, 0.5, 0.7, 0.9, 1.1, 1.3, 1.55]),
    (-0.03, [-1.35, -1.2, -1.0, -0.8, -0.6, -0.4, -0.2, 0.0, 0.2, 0.4, 0.6, 0.8, 1.0, 1.2, 1.4]),
    (-0.17, [-1.3, -1.0, -0.8, -0.6, -0.4, -0.2, 0.0, 0.2, 0.4, 0.6, 0.8, 1.0, 1.2, 1.45]),
    (-0.31, [-1.25, -1.05, -0.85, -0.65, -0.45, -0.25, -0.05, 0.15, 0.35, 0.55, 0.75, 0.95, 1.15, 1.4]),
    (-0.45, [-1.2, -1.0, -0.8, -0.6, -0.4, -0.2, 0.0, 0.2, 0.4, 0.6, 0.8, 1.0, 1.2, 1.5]),
    (-0.59, [-1.35, -1.15, -0.95, -0.75, -0.55, -0.35, -0.15, 0.05, 0.25, 0.45, 0.65, 0.85, 1.05, 1.3]),
    (-0.73, [-1.3, -1.05, -0.85, -0.65, -0.45, -0.25, -0.05, 0.15, 0.35, 0.55, 0.75, 0.95, 1.15, 1.4]),
    (-0.87, [-1.2, -1.0, -0.8, -0.6, -0.4, -0.2, 0.0, 0.2, 0.4, 0.6, 0.8, 1.0, 1.25]),
    (-1.01, [-1.35, -1.15, -0.9, -0.7, -0.5, -0.3, -0.1, 0.1, 0.3, 0.5, 0.7, 0.95, 1.2]),
    (-1.15, [-1.1, -0.9, -0.7, -0.5, -0.3, -0.1, 0.1, 0.3, 0.5, 0.75, 1.0]),
    (-1.29, [-1.2, -0.95, -0.75, -0.55, -0.35, -0.15, 0.05, 0.25, 0.45, 0.7]),
    (-1.43, [-1.05, -0.8, -0.6, -0.35, -0.1, 0.15, 0.4, 0.65]),
]
e_extra = [
    (-1.01, 4.53), (-0.86, 4.53), (0.36, 4.53), (0.46, 4.53), (0.63, 4.53), (0.71, 4.53),
    (1.25, 4.53), (1.47, 4.53), (1.90, 4.53), (2.27, 4.53),
    (0.36, 3.78), (1.27, 3.78), (2.03, 3.78), (2.16, 3.78), (2.23, 3.78), (2.47, 3.78),
    (2.65, 3.78), (2.72, 3.78), (2.91, 3.78), (3.65, 3.78), (2.13, 4.02),
    (-0.78, 3.08), (-0.65, 3.08), (-0.54, 3.08), (-0.42, 3.06), (-0.32, 3.04), (-0.21, 3.08),
    (0.20, 3.05), (0.24, 3.05), (0.49, 3.08), (0.75, 3.05), (1.05, 3.08), (1.10, 3.08),
    (1.44, 3.10), (1.63, 3.05), (1.69, 3.08), (1.88, 3.05), (1.64, 3.42), (0.07, 2.87),
    (-1.35, 2.42), (-1.01, 2.42), (-0.52, 2.42), (-0.23, 2.42), (0.12, 2.42), (0.22, 2.42),
    (0.26, 2.42), (0.46, 2.42), (0.78, 2.42), (0.85, 2.42), (1.00, 2.42), (1.51, 2.42),
    (2.18, 2.42), (0.88, 2.53), (-0.86, 2.29), (0.49, 2.25), (1.00, 2.28), (1.30, 2.30),
    (-1.45, 2.30), (0.55, 2.20), (1.70, 2.20), (2.00, 2.10),
    (-3.75, 0.81), (-3.51, 0.18), (-3.29, -0.53), (-3.17, -1.10), (-3.29, -1.68), (-3.07, -1.68),
    (-2.70, -1.90), (-2.82, 0.42), (-2.73, 0.91), (-2.61, 1.14), (-2.90, -0.63), (-2.82, -0.76),
    (-2.53, -1.29), (-2.38, -1.29), (-2.14, 1.49), (-2.24, 1.73), (-2.29, 1.66), (3.47, 1.70),
    (-1.40, -2.34), (-0.78, -2.54), (-0.67, -2.31), (-0.57, -2.31), (-0.47, -2.31), (-0.37, -2.35),
    (-0.18, -2.35), (-0.05, -2.31), (0.12, -2.27), (0.22, -2.31), (0.41, -2.31), (0.64, -2.39),
    (1.15, -1.79), (1.25, -1.81), (1.49, -1.65), (2.27, -1.29), (2.08, -1.16), (2.42, -0.24),
    (2.42, -0.35), (2.45, -0.45), (2.67, -0.53), (2.76, -0.82), (2.57, -0.55), (2.96, 0.60),
    (2.72, 0.63), (3.18, 0.28), (2.67, 1.07), (2.69, 1.38), (2.52, 1.96), (2.75, 1.75),
    (2.60, 0.20), (-2.60, -0.10), (-2.45, -0.85), (-2.70, -0.30),
]

f_rows = [
    (2.55, [-0.3, 0.2, 0.8, 1.2]),
    (2.42, [-1.3, -1.1, -0.9, -0.6, -0.4, -0.2, 0.0, 0.2, 0.4, 0.6, 0.8, 1.0, 1.2, 1.4, 1.6, 2.1]),
    (2.25, [-0.8, -0.5, -0.1, 0.3, 0.7, 1.3]),
    (2.08, [-1.0, -0.6, -0.2, 0.2, 0.6, 1.1]),
    (1.9, [-1.6, -1.2, -0.7, -0.3, 0.1, 0.5, 1.0, 1.4]),
    (1.73, [-1.4, -0.9, -0.5, -0.1, 0.3, 0.7, 1.2, 1.7]),
    (1.56, [-1.5, -1.1, -0.7, -0.4, -0.1, 0.2, 0.5, 0.9, 1.3]),
    (1.39, [-1.3, -0.9, -0.6, -0.3, 0.0, 0.3, 0.6, 1.0, 1.5]),
    (1.22, [-1.9, -1.5, -1.1, -0.8, -0.5, -0.2, 0.1, 0.4, 0.7, 1.1, 1.5]),
    (1.05, [-1.7, -1.3, -1.0, -0.7, -0.4, -0.1, 0.2, 0.5, 0.8, 1.2, 1.7]),
    (0.88, [-2.0, -1.6, -1.2, -0.9, -0.6, -0.35, -0.1, 0.15, 0.4, 0.65, 0.9, 1.25, 1.6, 2.0]),
    (0.71, [-1.8, -1.45, -1.1, -0.85, -0.6, -0.35, -0.1, 0.15, 0.4, 0.65, 0.9, 1.2, 1.55, 1.9]),
    (0.54, [-2.1, -1.7, -1.35, -1.05, -0.8, -0.55, -0.3, -0.05, 0.2, 0.45, 0.7, 0.95, 1.25, 1.6, 2.1]),
    (0.37, [-1.9, -1.55, -1.25, -1.0, -0.75, -0.5, -0.25, 0.0, 0.25, 0.5, 0.75, 1.0, 1.3, 1.7, 2.2]),
    (0.2, [-2.3, -1.8, -1.45, -1.15, -0.9, -0.65, -0.4, -0.15, 0.1, 0.35, 0.6, 0.85, 1.1, 1.4, 1.8]),
    (0.03, [-2.1, -1.7, -1.35, -1.05, -0.8, -0.55, -0.3, -0.05, 0.2, 0.45, 0.7, 0.95, 1.25, 1.6, 2.0]),
    (-0.14, [-2.4, -1.9, -1.55, -1.25, -1.0, -0.75, -0.5, -0.25, 0.0, 0.25, 0.5, 0.75, 1.0, 1.3, 1.7]),
    (-0.31, [-2.2, -1.75, -1.4, -1.1, -0.85, -0.6, -0.35, -0.1, 0.15, 0.4, 0.65, 0.9, 1.15, 1.5, 1.9]),
    (-0.48, [-1.95, -1.6, -1.25, -1.0, -0.75, -0.5, -0.25, 0.0, 0.25, 0.5, 0.75, 1.0, 1.3, 1.7]),
    (-0.65, [-2.1, -1.75, -1.4, -1.1, -0.85, -0.6, -0.35, -0.1, 0.15, 0.4, 0.65, 0.9, 1.2, 1.55]),
    (-0.82, [-1.9, -1.5, -1.2, -0.95, -0.7, -0.45, -0.2, 0.05, 0.3, 0.55, 0.8, 1.1, 1.5, 2.1]),
    (-0.99, [-1.65, -1.3, -1.0, -0.75, -0.5, -0.25, 0.0, 0.25, 0.5, 0.75, 1.05, 1.4]),
    (-1.16, [-1.45, -1.1, -0.8, -0.55, -0.3, -0.05, 0.2, 0.45, 0.7, 1.0, 1.35]),
    (-1.33, [-1.2, -0.85, -0.55, -0.25, 0.05, 0.35, 0.65, 1.0]),
    (-1.5, [-0.9, -0.5, -0.15, 0.2, 0.6, 0.95]),
    (-1.67, [-0.6, -0.2, 0.3, 0.8]),
]
f_fill = [
    (1.3, [-1.1, -0.75, -0.45, -0.15, 0.15, 0.45, 0.8, 1.2]),
    (1.13, [-1.15, -0.85, -0.55, -0.25, 0.05, 0.35, 0.65, 1.0]),
    (0.96, [-1.4, -1.05, -0.75, -0.5, -0.25, 0.0, 0.3, 0.55, 0.8, 1.05, 1.4]),
    (0.79, [-1.25, -0.95, -0.7, -0.45, -0.2, 0.05, 0.3, 0.55, 0.8, 1.05, 1.35]),
    (0.62, [-1.5, -1.2, -0.95, -0.7, -0.45, -0.2, 0.05, 0.3, 0.55, 0.8, 1.1, 1.4]),
    (0.45, [-1.4, -1.1, -0.85, -0.6, -0.35, -0.1, 0.15, 0.4, 0.65, 0.9, 1.15, 1.45]),
    (0.28, [-1.6, -1.3, -1.0, -0.75, -0.5, -0.25, 0.0, 0.25, 0.5, 0.75, 1.0, 1.25]),
    (0.11, [-1.5, -1.2, -0.95, -0.7, -0.45, -0.2, 0.05, 0.3, 0.55, 0.8, 1.1, 1.4]),
    (-0.06, [-1.4, -1.1, -0.85, -0.6, -0.35, -0.1, 0.15, 0.4, 0.65, 0.9, 1.15, 1.5]),
    (-0.23, [-1.55, -1.25, -0.95, -0.7, -0.45, -0.2, 0.05, 0.3, 0.55, 0.8, 1.05, 1.3]),
    (-0.4, [-1.4, -1.1, -0.85, -0.6, -0.35, -0.1, 0.15, 0.4, 0.65, 0.9, 1.15, 1.45]),
    (-0.57, [-1.5, -1.2, -0.95, -0.7, -0.45, -0.2, 0.05, 0.3, 0.55, 0.8, 1.05, 1.35]),
    (-0.74, [-1.3, -1.05, -0.8, -0.55, -0.3, -0.05, 0.2, 0.45, 0.7, 0.95, 1.25]),
    (-0.91, [-1.4, -1.15, -0.85, -0.6, -0.35, -0.1, 0.15, 0.4, 0.65, 0.9, 1.2]),
    (-1.08, [-1.25, -0.95, -0.65, -0.4, -0.15, 0.1, 0.35, 0.6, 0.85, 1.15]),
    (-1.25, [-1.0, -0.7, -0.4, -0.1, 0.2, 0.5, 0.8]),
    (-1.42, [-0.7, -0.35, 0.0, 0.4, 0.75]),
]
f_extra = [
    (0.52, 7.66), (0.88, 7.23), (2.45, 6.88), (0.29, 3.55), (1.25, 3.81), (1.38, 3.64),
    (-1.27, 3.17), (-0.64, 3.17), (-0.44, 3.17), (-0.13, 3.17), (0.88, 3.17), (1.01, 3.17),
    (1.22, 3.17), (1.71, 3.17), (1.80, 3.17), (1.93, 3.17), (-0.13, 2.98), (-0.72, 2.79),
    (3.09, 2.42), (3.92, 2.42), (2.17, 2.48), (2.32, 2.39), (-2.01, 2.19), (-1.92, 2.19),
    (-3.08, 0.97), (-3.85, 0.53), (9.21, 0.09), (2.82, 0.15), (2.36, 1.53), (2.32, 1.85),
    (2.54, -0.73), (2.45, -1.36), (1.68, -1.55), (1.84, -1.55), (2.17, -1.48), (1.62, -2.11),
    (1.16, -2.24), (1.07, -2.05), (-0.44, -2.24), (-0.04, -2.11), (0.61, -2.09), (-1.33, -1.80),
    (-1.14, -1.99), (-0.96, -1.99), (-1.79, -1.67), (-2.65, -1.36), (-2.58, -1.36), (-2.89, -0.60),
    (-2.80, -0.60), (-3.35, 0.18), (-3.08, 0.03), (-2.62, 0.40), (-2.34, 0.75), (2.20, 0.60),
    (2.25, 0.30), (2.40, -0.40), (2.10, 1.00), (-2.50, -0.30), (-2.20, 1.30),
]

# fitted regression lines (end points)
a_fit_x, a_fit_y = [-3.32, 4.62], [1.71, -2.40]
b_fit_x, b_fit_y = [-3.26, 3.10], [2.21, -2.14]
c_fit_x, c_fit_y = [-3.21, 4.30], [-0.68, 0.91]
d_fit_x, d_fit_y = [-2.51, 4.84], [-0.57, 1.16]
e_fit_x, e_fit_y = [-3.76, 3.69], [-0.63, 0.62]
f_fit_x, f_fit_y = [-3.87, 9.17], [-0.39, 1.03]

letters = ["A", "B", "C", "D", "E", "F"]
x_labels = ["SD GFR", "SD GFR", "ln SD ACR", "ln SD ACR", "ln SD U-KIM-1", "ln SD U-KIM-1"]
y_label = "ln SD sTNFR1"
stats = ["R=-0.52, p<0.001", "R=-0.62, p<0.001", "R=0.21, p<0.001",
         "R=0.24, p<0.001", "R=0.17, p<0.001", "R=0.11, p<0.001"]

# ---------------------------------------------------------------- layout
W, H = 718, 1106
DOT = "#656565"
FRAME = "#767676"

panels = [
    dict(rows=a_rows + a_fill, extra=a_extra, fit=(a_fit_x, a_fit_y), box=(3, 20, 348, 365),
         ax=(49.3, 33, 335, 319.3), xlim=(-4.23, 4.81), ylim=(-2.76, 6.22),
         xt=[-4, -2, 0, 2, 4], yt=[-2, 0, 2, 4, 6], txt=(0.54, 3.96), closed=False),
    dict(rows=b_rows + b_fill, extra=b_extra, fit=(b_fit_x, b_fit_y), box=(371, 20, 707, 365),
         ax=(418.3, 33.3, 704, 320), xlim=(-4.22, 4.2), ylim=(-2.55, 8.25),
         xt=[-4, -2, 0, 2, 4], yt=[-2, 0, 2, 4, 6, 8], txt=(-1.18, 5.76), closed=True),
    dict(rows=c_rows + c_fill, extra=c_extra, fit=(c_fit_x, c_fit_y), box=(3, 389, 348, 735),
         ax=(49.3, 403, 335, 688), xlim=(-4.23, 4.51), ylim=(-2.75, 6.19),
         xt=[-4, -2, 0, 2, 4], yt=[-2, 0, 2, 4, 6], txt=(-1.38, 4.98), closed=False),
    dict(rows=d_rows + d_fill, extra=d_extra, fit=(d_fit_x, d_fit_y), box=(371, 389, 707, 735),
         ax=(418.3, 402.7, 704, 688.3), xlim=(-2.75, 6.21), ylim=(-2.51, 8.24),
         xt=[-2, 0, 2, 4, 6], yt=[-2, 0, 2, 4, 6, 8], txt=(0.6, 3.99), closed=True),
    dict(rows=e_rows + e_fill, extra=e_extra, fit=(e_fit_x, e_fit_y), box=(3, 758, 348, 1100),
         ax=(49.3, 771.7, 335, 1057.7), xlim=(-4.22, 4.2), ylim=(-2.79, 6.21),
         xt=[-4, -2, 0, 2, 4], yt=[-2, 0, 2, 4, 6], txt=(-1.31, 4.97), closed=False),
    dict(rows=f_rows + f_fill, extra=f_extra, fit=(f_fit_x, f_fit_y), box=(371, 758, 707, 1100),
         ax=(418.3, 771.7, 704, 1057.7), xlim=(-5.41, 10.37), ylim=(-2.54, 8.25),
         xt=[-5, 0, 5, 10], yt=[-2, 0, 2, 4, 6, 8], txt=(2.54, 4.96), closed=True),
]

fig = plt.figure(figsize=(W / 100, H / 100), dpi=100)

for i, p in enumerate(panels):
    # outer panel frame and letter
    x0, y0, x1, y1 = p["box"]
    fig.patches.append(Rectangle((x0 / W, 1 - y1 / H), (x1 - x0) / W, (y1 - y0) / H,
                                 transform=fig.transFigure, fill=False,
                                 ec=FRAME, lw=1.3))
    fig.text(x0 / W, 1 - (y0 - 17) / H, letters[i], fontsize=13, fontweight="bold",
             va="top", ha="left")

    l, t, r, b = p["ax"]
    ax = fig.add_axes([l / W, 1 - b / H, (r - l) / W, (b - t) / H])

    xs, ys = [], []
    for yv, row in p["rows"]:
        xs += row
        ys += [yv] * len(row)
    xs += [pt[0] for pt in p["extra"]]
    ys += [pt[1] for pt in p["extra"]]
    if letters[i] == "C":
        xs += [c_band_x] * len(c_band_y)
        ys += c_band_y
    ax.scatter(xs, ys, s=12, c=DOT, linewidths=0, zorder=2)
    ax.plot(p["fit"][0], p["fit"][1], color="black", lw=0.8, zorder=3)
    ax.text(p["txt"][0], p["txt"][1], stats[i], fontsize=8.5, va="center", ha="left", zorder=4)

    ax.set_xlim(p["xlim"])
    ax.set_ylim(p["ylim"])
    ax.set_xticks(p["xt"])
    ax.set_yticks(p["yt"])
    ax.yaxis.grid(True, color="#ebebeb", lw=0.8)
    ax.set_axisbelow(True)
    for side in ["top", "right"]:
        ax.spines[side].set_visible(p["closed"])
    for sp in ax.spines.values():
        sp.set_color(FRAME)
        sp.set_linewidth(1.1)
    ax.tick_params(direction="out", length=3, width=0.8, color=FRAME, labelsize=8.5, pad=2)
    ax.tick_params(axis="y", labelrotation=90, pad=3)
    for lab in ax.get_yticklabels():
        lab.set_verticalalignment("center")
    ax.set_xlabel(x_labels[i], fontsize=8.8, labelpad=1)
    ax.set_ylabel(y_label, fontsize=8.8, labelpad=3)

fig.savefig("out.png", dpi=100)
